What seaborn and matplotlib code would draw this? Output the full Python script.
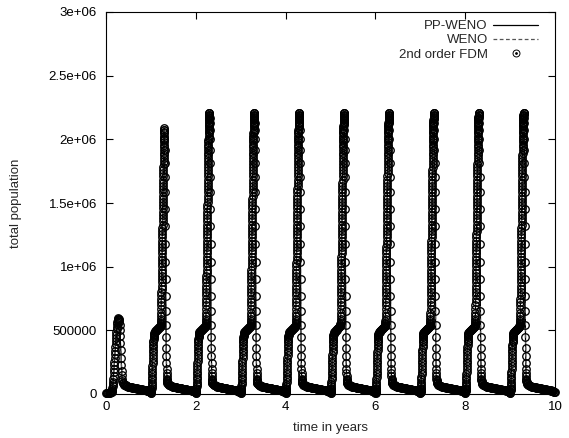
import numpy as np
import pandas as pd
import matplotlib
matplotlib.use("Agg")
import matplotlib.pyplot as plt
import seaborn as sns
from matplotlib.lines import Line2D

# total population (in thousands), one list per part of a yearly cycle
# year 0: small first outbreak
y0_base = [10, 9, 9, 9, 10, 11, 13, 15]
y0_rise = [18, 24, 33, 45, 60, 78, 98, 120, 144, 170, 197, 225, 254, 283, 312, 340,
           367, 393, 418, 442, 465, 487, 508, 528, 546]
y0_fall = [562, 575, 585, 591, 593, 590, 580, 563, 538, 503, 458, 403, 343, 283, 228,
           183, 147, 120, 101, 89]

# years 1..9: the same cycle every year (peak ~2.21e6, year 1 stops at ~2.1e6)
rise_vals = [8, 10, 14, 20, 28, 38, 50, 64, 80, 97, 115, 134, 154, 175, 196, 218, 240,
             262, 284, 306, 328, 349, 369, 388, 405, 420, 434, 446, 457, 467, 475]
shoulder_vals = [480, 484, 488, 492, 496, 500, 504, 508, 512, 516, 520, 524, 528, 531]
climb_vals = [535, 540, 548, 558, 572, 590, 612, 638, 668, 700,
              725, 750, 776, 801, 826, 851, 877, 902, 927, 952,
              977, 1003, 1028, 1053, 1078, 1104, 1129, 1154, 1179, 1204,
              1230, 1255, 1280, 1305, 1331, 1356, 1381, 1406, 1431, 1457,
              1482, 1507, 1532, 1558, 1583, 1608, 1633, 1658, 1684, 1709,
              1734, 1758, 1782, 1806, 1829, 1852, 1874, 1896, 1917, 1938,
              1958, 1977, 1995, 2013, 2030, 2046, 2061, 2075, 2089, 2102,
              2114, 2126, 2137, 2148, 2158, 2168, 2177, 2186, 2195, 2203]
fall_vals = [2210, 2206, 2192, 2165, 2125, 2070, 2000, 1915, 1815, 1705, 1585, 1455,
             1320, 1180, 1040, 900, 770, 650, 540, 445, 365, 298, 244, 200, 166, 140,
             121, 108, 99, 92, 87]
tail_vals = [84, 79, 74, 70, 67, 64, 62, 60, 58.5, 57, 56, 55, 54, 53, 52, 51, 50, 49,
             48, 47, 46, 45, 44, 43, 42, 41, 40, 39, 38, 37, 36, 35, 34, 33, 32, 31, 30,
             29, 27.5, 26, 24, 22, 20, 17.5, 14]
year1_peak = 2100
end_val = 12

n_years = 10
xticks = [0, 2, 4, 6, 8, 10]
yticks = [0, 500000, 1000000, 1500000, 2000000, 2500000, 3000000]
ytick_labels = ["0", "500000", "1e+06", "1.5e+06", "2e+06", "2.5e+06", "3e+06"]


def part(year, t0, t1, vals):
    # solver output times inside one part of the year
    t = year + np.linspace(t0, t1, len(vals), endpoint=False)
    return pd.DataFrame({"time": t, "pop": np.array(vals, dtype=float) * 1000})


frames = [part(0, 0.0, 0.13, y0_base), part(0, 0.13, 0.25, y0_rise),
          part(0, 0.25, 0.38, y0_fall), part(0, 0.38, 1.0, tail_vals)]
for yr in range(1, n_years):
    climb, fall = climb_vals, fall_vals
    if yr == 1:
        climb = [v for v in climb_vals if v <= year1_peak]
        fall = [v for v in fall_vals if v <= year1_peak]
    frames += [part(yr, 0.0, 0.07, rise_vals), part(yr, 0.07, 0.22, shoulder_vals),
               part(yr, 0.22, 0.30, climb), part(yr, 0.30, 0.37, fall),
               part(yr, 0.37, 1.0, tail_vals)]
frames.append(pd.DataFrame({"time": [float(n_years)], "pop": [end_val * 1000.0]}))
df = pd.concat(frames, ignore_index=True)

sns.set_theme(style="ticks")
plt.rcParams["font.family"] = ["Liberation Sans", "DejaVu Sans"]
plt.rcParams["font.size"] = 9.5

fig = plt.figure(figsize=(5.69, 4.38), dpi=100)
ax = fig.add_axes([106 / 569, 1 - 394 / 438, 449 / 569, 382 / 438])

sns.lineplot(data=df, x="time", y="pop", estimator=None, sort=False, ax=ax,
             color="black", linewidth=0.9, label="PP-WENO")
sns.lineplot(data=df, x="time", y="pop", estimator=None, sort=False, ax=ax,
             color="#555555", linewidth=0.9, linestyle=(0, (3, 2)), label="WENO")
sns.lineplot(data=df, x="time", y="pop", estimator=None, sort=False, ax=ax,
             linestyle="", marker="o", markersize=5.4, markerfacecolor="none",
             markeredgecolor="black", markeredgewidth=0.95, clip_on=False,
             label="2nd order FDM")

ax.set_xlim(0, 10)
ax.set_ylim(0, 3000000)
ax.set_xticks(xticks)
ax.set_xticklabels([str(v) for v in xticks])
ax.set_yticks(yticks)
ax.set_yticklabels(ytick_labels)
ax.tick_params(direction="in", top=True, right=True, length=5, width=0.8,
               colors="black", labelsize=9.5)
ax.tick_params(axis="x", pad=5)
ax.tick_params(axis="y", pad=6.5)
for s in ax.spines.values():
    s.set_visible(True)
    s.set_color("black")
    s.set_linewidth(0.8)

ax.set_xlabel("time in years", fontsize=9.5)
ax.set_ylabel("total population", fontsize=9.5)
ax.xaxis.set_label_coords(0.5, -0.073)
ax.yaxis.set_label_coords(-0.187, 0.5)

h_line = Line2D([], [], color="black", linewidth=0.9)
h_dash = Line2D([], [], color="#555555", linewidth=0.9, linestyle=(0, (3, 2)))
h_circ = (Line2D([], [], marker="o", linestyle="", markersize=5, markerfacecolor="none",
                 markeredgecolor="black", markeredgewidth=0.7),
          Line2D([], [], marker=".", linestyle="", markersize=2, color="black"))
ax.legend([h_line, h_dash, h_circ], ["PP-WENO", "WENO", "2nd order FDM"],
          loc="upper right", bbox_to_anchor=(0.962, 0.979), frameon=False,
          markerfirst=False, borderpad=0, borderaxespad=0, handlelength=3.4,
          handletextpad=0.4, labelspacing=0.15, fontsize=9.5)

fig.savefig("out.png", dpi=100)
